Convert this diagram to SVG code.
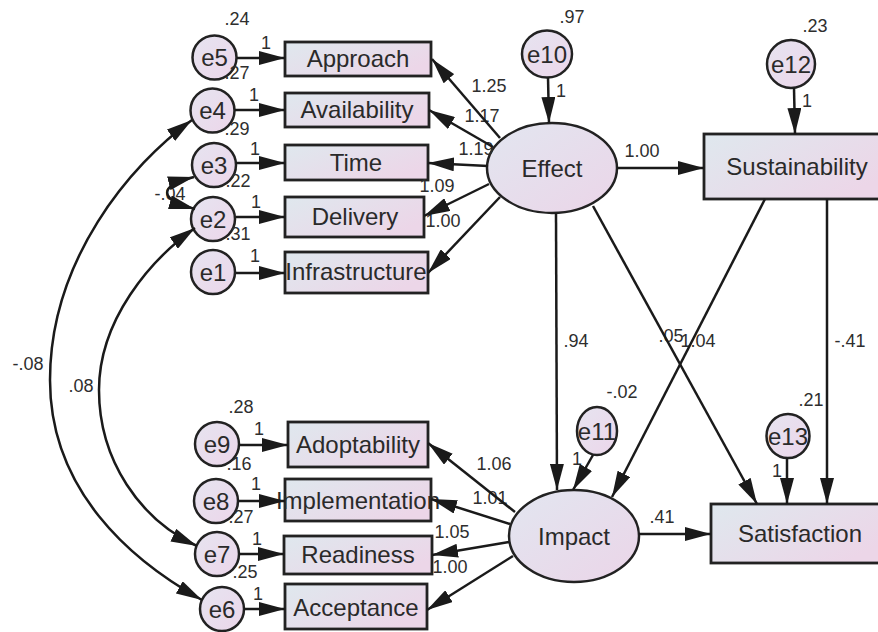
<svg xmlns="http://www.w3.org/2000/svg" width="878" height="632" viewBox="0 0 878 632">
<defs>
<linearGradient id="gr" x1="0" y1="0" x2="1" y2="0.6">
<stop offset="0" stop-color="#dfe8ee"/>
<stop offset="1" stop-color="#ecd6e8"/>
</linearGradient>
<linearGradient id="ge" x1="0" y1="0" x2="1" y2="1">
<stop offset="0" stop-color="#e2e6f0"/>
<stop offset="1" stop-color="#ebd5e8"/>
</linearGradient>
<linearGradient id="gc" x1="0" y1="0" x2="1" y2="1">
<stop offset="0" stop-color="#e6e4f0"/>
<stop offset="1" stop-color="#ecd6ea"/>
</linearGradient>
<marker id="ah" markerUnits="userSpaceOnUse" markerWidth="26" markerHeight="14" refX="26" refY="7" orient="auto-start-reverse" viewBox="0 0 26 14">
<path d="M0,0 L26,7 L0,14 z" fill="#1a1a1a"/>
</marker>
<style>
.r{fill:url(#gr);stroke:#222;stroke-width:2.8}
.el{fill:url(#ge);stroke:#222;stroke-width:2.5}
.c{fill:url(#gc);stroke:#222;stroke-width:2.5}
.t{font-family:"Liberation Sans",Arial,sans-serif;font-size:24px;fill:#2a2a2a;text-anchor:middle}
.n{font-family:"Liberation Sans",Arial,sans-serif;font-size:18px;fill:#2e2e2e;text-anchor:middle}
.a{fill:none;stroke:#1a1a1a;stroke-width:2.5;marker-end:url(#ah)}
.d{fill:none;stroke:#1a1a1a;stroke-width:2.5;marker-start:url(#ah);marker-end:url(#ah)}
</style>
</defs>
<rect width="878" height="632" fill="#ffffff"/>

<g id="nodes">
<g id="Approach"><rect class="r" x="285" y="42" width="146" height="34"/><text class="t" x="358" y="67">Approach</text></g>
<g id="Availability"><rect class="r" x="285" y="93" width="144" height="34"/><text class="t" x="357" y="118">Availability</text></g>
<g id="Time"><rect class="r" x="285" y="145" width="143" height="35"/><text class="t" x="356" y="171">Time</text></g>
<g id="Delivery"><rect class="r" x="285" y="197" width="139" height="40"/><text class="t" x="355" y="225">Delivery</text></g>
<g id="Infrastructure"><rect class="r" x="285" y="252" width="143" height="41"/><text class="t" x="356" y="280">Infrastructure</text></g>
<g id="Adoptability"><rect class="r" x="288" y="422" width="140" height="45"/><text class="t" x="358" y="453">Adoptability</text></g>
<g id="Implementation"><rect class="r" x="285" y="479" width="146" height="42"/><text class="t" x="358" y="509">Implementation</text></g>
<g id="Readiness"><rect class="r" x="284" y="536" width="148" height="38"/><text class="t" x="358" y="563">Readiness</text></g>
<g id="Acceptance"><rect class="r" x="285" y="584" width="142" height="45"/><text class="t" x="356" y="616">Acceptance</text></g>
<g id="Sustainability"><rect class="r" x="704" y="134" width="184" height="65"/><text class="t" x="797" y="175">Sustainability</text></g>
<g id="Satisfaction"><rect class="r" x="711" y="504" width="177" height="59"/><text class="t" x="800" y="542">Satisfaction</text></g>
<g id="Effect"><ellipse class="el" cx="552" cy="168" rx="65" ry="45"/><text class="t" x="552" y="177">Effect</text></g>
<g id="Impact"><ellipse class="el" cx="574" cy="536" rx="65" ry="46"/><text class="t" x="574" y="545">Impact</text></g>
<g id="e5"><circle class="c" cx="214.5" cy="57.5" r="22"/><text class="t" x="214.5" y="66">e5</text></g>
<g id="e4"><circle class="c" cx="212.5" cy="110.5" r="22"/><text class="t" x="212.5" y="119">e4</text></g>
<g id="e3"><circle class="c" cx="214" cy="165" r="22"/><text class="t" x="214" y="173.5">e3</text></g>
<g id="e2"><circle class="c" cx="213" cy="219" r="22"/><text class="t" x="213" y="227.5">e2</text></g>
<g id="e1"><circle class="c" cx="213" cy="272" r="22"/><text class="t" x="213" y="280.5">e1</text></g>
<g id="e9"><circle class="c" cx="217" cy="444" r="22"/><text class="t" x="217" y="452.5">e9</text></g>
<g id="e8"><circle class="c" cx="216" cy="501" r="22"/><text class="t" x="216" y="509.5">e8</text></g>
<g id="e7"><circle class="c" cx="217" cy="554" r="22"/><text class="t" x="217" y="562.5">e7</text></g>
<g id="e6"><circle class="c" cx="222" cy="609" r="22"/><text class="t" x="222" y="617.5">e6</text></g>
<g id="e10"><ellipse class="c" cx="547" cy="54" rx="25" ry="23.5"/><text class="t" x="547" y="62.5">e10</text></g>
<g id="e12"><circle class="c" cx="791" cy="64" r="24"/><text class="t" x="791" y="72.5">e12</text></g>
<g id="e11"><ellipse class="c" cx="597" cy="431" rx="20" ry="24"/><text class="t" x="597" y="440">e11</text></g>
<g id="e13"><ellipse class="c" cx="788" cy="436" rx="21.5" ry="22"/><text class="t" x="788" y="444.5">e13</text></g>
</g>

<g id="labels">
<text class="n" x="237" y="25">.24</text>
<text class="n" x="266" y="49">1</text>
<text class="n" x="237" y="79">.27</text>
<text class="n" x="254" y="101">1</text>
<text class="n" x="237" y="135">.29</text>
<text class="n" x="255" y="155">1</text>
<text class="n" x="238" y="187">.22</text>
<text class="n" x="256" y="208">1</text>
<text class="n" x="238" y="240">.31</text>
<text class="n" x="255" y="262">1</text>
<text class="n" x="170" y="200">-.04</text>
<text class="n" x="28" y="370">-.08</text>
<text class="n" x="81" y="392">.08</text>
<text class="n" x="241" y="413">.28</text>
<text class="n" x="259" y="435">1</text>
<text class="n" x="239" y="470">.16</text>
<text class="n" x="256" y="490">1</text>
<text class="n" x="241" y="523">.27</text>
<text class="n" x="257" y="545">1</text>
<text class="n" x="245" y="578">.25</text>
<text class="n" x="258" y="600">1</text>
<text class="n" x="489" y="92">1.25</text>
<text class="n" x="482" y="122">1.17</text>
<text class="n" x="476" y="155">1.19</text>
<text class="n" x="437" y="192">1.09</text>
<text class="n" x="443" y="227">1.00</text>
<text class="n" x="572" y="23">.97</text>
<text class="n" x="561" y="97">1</text>
<text class="n" x="642" y="157">1.00</text>
<text class="n" x="815" y="32">.23</text>
<text class="n" x="807" y="107">1</text>
<text class="n" x="576" y="347">.94</text>
<text class="n" x="671" y="342">.05</text>
<text class="n" x="698" y="347">1.04</text>
<text class="n" x="850" y="347">-.41</text>
<text class="n" x="622" y="398">-.02</text>
<text class="n" x="811" y="406">.21</text>
<text class="n" x="577" y="465">1</text>
<text class="n" x="777" y="477">1</text>
<text class="n" x="662" y="523">.41</text>
<text class="n" x="494" y="470">1.06</text>
<text class="n" x="490" y="504">1.01</text>
<text class="n" x="452" y="538">1.05</text>
<text class="n" x="450" y="573">1.00</text>
</g>

<g id="connectors">
<line class="a" x1="237" y1="58" x2="285" y2="58"/>
<line class="a" x1="235" y1="110" x2="285" y2="110"/>
<line class="a" x1="236" y1="163" x2="285" y2="163"/>
<line class="a" x1="236" y1="217" x2="285" y2="217"/>
<line class="a" x1="236" y1="273" x2="285" y2="273"/>
<line class="a" x1="239" y1="445" x2="288" y2="445"/>
<line class="a" x1="238" y1="501" x2="285" y2="501"/>
<line class="a" x1="239" y1="554" x2="284" y2="554"/>
<line class="a" x1="244" y1="609" x2="285" y2="609"/>
<line class="a" x1="500" y1="138" x2="432" y2="59"/>
<line class="a" x1="493" y1="147" x2="429" y2="110"/>
<line class="a" x1="488" y1="166" x2="428" y2="163"/>
<line class="a" x1="489" y1="184" x2="424" y2="216"/>
<line class="a" x1="500" y1="197" x2="428" y2="273"/>
<line class="a" x1="515" y1="512" x2="428" y2="443"/>
<line class="a" x1="510" y1="524" x2="431" y2="499"/>
<line class="a" x1="509" y1="542" x2="432" y2="555"/>
<line class="a" x1="513" y1="556" x2="427" y2="610"/>
<line class="a" x1="548" y1="77.5" x2="549" y2="123"/>
<line class="a" x1="617" y1="168" x2="704" y2="168"/>
<line class="a" x1="556" y1="213" x2="557" y2="490"/>
<line class="a" x1="593" y1="206" x2="757" y2="504"/>
<line class="a" x1="765" y1="199" x2="612" y2="497"/>
<line class="a" x1="827" y1="199" x2="827" y2="504"/>
<line class="a" x1="794" y1="88" x2="795" y2="134"/>
<line class="a" x1="593" y1="455" x2="573" y2="490"/>
<line class="a" x1="787" y1="458" x2="787" y2="504"/>
<line class="a" x1="639" y1="534" x2="711" y2="534"/>
<path class="d" d="M194,177 C158,186 158,199 195,209"/>
<path class="d" d="M192,120 C130,165 50,260 50,380 C50,490 130,560 202,600"/>
<path class="d" d="M195,228 C150,260 99,320 99,390 C99,460 140,520 197,546"/>
</g>
</svg>
